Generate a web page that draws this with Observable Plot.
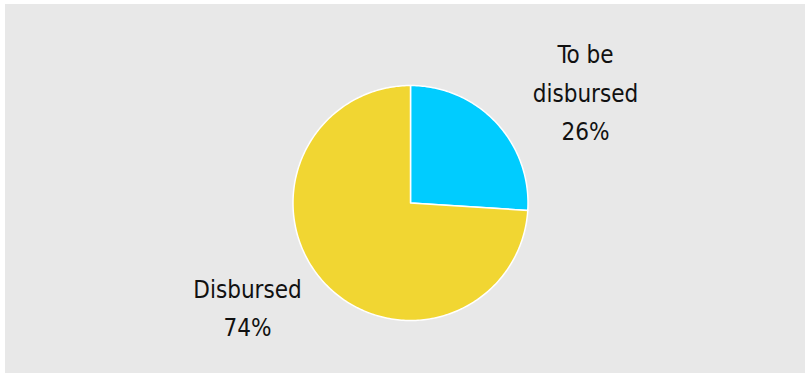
<!DOCTYPE html>
<html>
<head>
<meta charset="utf-8">
<script src="https://cdn.jsdelivr.net/npm/d3@7"></script>
<script src="https://cdn.jsdelivr.net/npm/@observablehq/plot@0.6"></script>
<style>
  html, body { margin: 0; padding: 0; background: #ffffff; }
  #wrap { padding: 4px 0 0 5px; }
  #wrap svg { display: block; background: #e8e8e8; }
</style>
</head>
<body>
<div id="wrap"></div>
<script>
// Data
const categories = ["To be disbursed", "Disbursed"];
const labels = ["To be\ndisbursed", "Disbursed"];
const values = [26, 74];
const colors = ["#00ccff", "#f1d632"];

// Build slice outlines from d3.pie angles (12 o'clock, clockwise)
const arcs = d3.pie().sort(null).value(d => d)(values);
const slices = arcs.map((a, i) => {
  const pts = [{x: 0, y: 0}];
  const steps = Math.max(8, Math.ceil((a.endAngle - a.startAngle) / (Math.PI / 180)));
  for (let k = 0; k <= steps; k++) {
    const t = a.startAngle + (a.endAngle - a.startAngle) * k / steps;
    pts.push({x: Math.sin(t), y: Math.cos(t)});
  }
  pts.push({x: 0, y: 0});
  return pts;
});

// Label anchors (layout, in pie-radius units)
const labelPos = [{x: 1.489, y: 0.970}, {x: -1.387, y: -0.864}];
const labelRows = categories.map((c, i) => ({
  x: labelPos[i].x, y: labelPos[i].y,
  text: `${labels[i]}\n${values[i]}%`
}));

const W = 800, H = 369;
const cx = 405, cy = 198.5, r = 117.5;

const chart = Plot.plot({
  width: W,
  height: H,
  margin: 0,
  x: {domain: [-1, 1], range: [cx - r, cx + r], axis: null},
  y: {domain: [-1, 1], range: [cy + r, cy - r], axis: null},
  style: {background: "#e8e8e8", overflow: "visible"},
  marks: [
    ...slices.map((pts, i) => Plot.line(pts, {
      x: "x", y: "y", fill: colors[i], stroke: "#ffffff", strokeWidth: 1.5,
      strokeLinejoin: "round", curve: "linear"
    })),
    Plot.text(labelRows, {
      x: "x", y: "y", text: "text",
      fontSize: 24, lineHeight: 1.625, lineAnchor: "middle", textAnchor: "middle",
      fill: "#111111",
      fontFamily: "'DejaVu Sans Condensed', 'DejaVu Sans', sans-serif"
    })
  ]
});
chart.querySelectorAll("text").forEach(t => t.style.fontStretch = "condensed");
document.getElementById("wrap").appendChild(chart);
</script>
</body>
</html>
